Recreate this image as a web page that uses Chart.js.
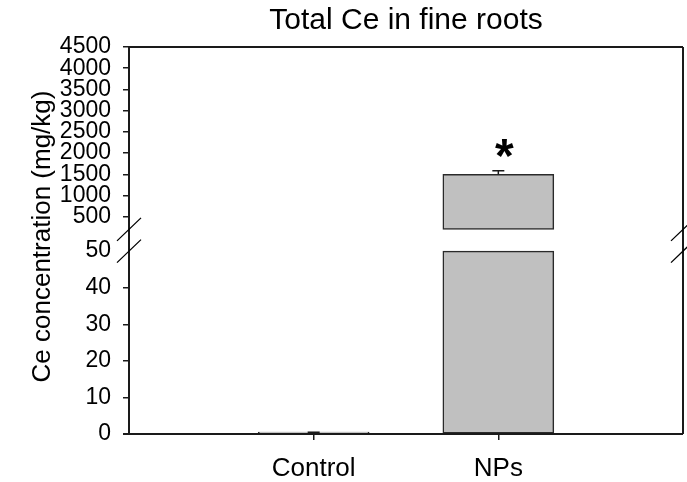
<!DOCTYPE html>
<html><head><meta charset="utf-8">
<script src="https://cdn.jsdelivr.net/npm/chart.js@4.4.0/dist/chart.umd.min.js"></script>
<style>
html,body{margin:0;padding:0;background:#fff;}
#wrap{position:relative;width:687px;height:482px;background:#fff;}
canvas{position:absolute;left:0;top:0;}
</style></head><body>
<div id="wrap"><canvas id="cTop" width="687" height="482"></canvas><canvas id="cBot" width="687" height="482"></canvas></div>
<script>
// ---- data ----
const categories = ['Control', 'NPs'];
const meanValues = [0.25, 1500];
const errorValues = [0.25, 80];
const significance = ['', '*'];
const upperTicks = [500, 1000, 1500, 2000, 2500, 3000, 3500, 4000, 4500];
const lowerTicks = [0, 10, 20, 30, 40, 50];
const upperRange = [200, 4500];
const lowerRange = [0, 50];
const titleText = 'Total Ce in fine roots';
const yTitleText = 'Ce concentration (mg/kg)';

// ---- style ----
const FONT = '"Liberation Sans", Arial, sans-serif';
const LINE = '#1a1a1a';
const BAR_FILL = '#c0c0c0';
const BAR_EDGE = '#2a2a2a';
const xMax = categories.length + 1;

function drawErrors(chart, test) {
  const {ctx, scales: {x, y}} = chart;
  categories.forEach((c, i) => {
    const top = meanValues[i], cap = meanValues[i] + errorValues[i];
    if (!test(top, cap)) return;
    const px = x.getPixelForValue(i + 1);
    const y0 = y.getPixelForValue(top), y1 = y.getPixelForValue(cap);
    ctx.save();
    ctx.strokeStyle = LINE; ctx.lineWidth = 1.5;
    ctx.beginPath();
    ctx.moveTo(px, y0); ctx.lineTo(px, y1);
    ctx.moveTo(px - 6, y1); ctx.lineTo(px + 6, y1);
    ctx.stroke();
    ctx.restore();
  });
}

const upperPlugin = {
  id: 'upperDeco',
  afterDatasetsDraw(chart) {
    drawErrors(chart, (top) => top > upperRange[0]);
    const {ctx, scales: {x, y}} = chart;
    categories.forEach((c, i) => {
      if (!significance[i]) return;
      const px = x.getPixelForValue(i + 1);
      const py = y.getPixelForValue(meanValues[i] + errorValues[i]);
      ctx.save();
      ctx.fillStyle = '#000';
      ctx.font = 'bold 48px ' + FONT;
      ctx.textAlign = 'center';
      ctx.textBaseline = 'alphabetic';
      ctx.fillText(significance[i], px + 6, py + 1);
      ctx.restore();
    });
  }
};

const xBase = {type: 'linear', min: 0, max: xMax, offset: false};

const chartA = new Chart(document.getElementById('cTop'), {
  type: 'bar',
  data: {
    datasets: [{
      data: categories.map((c, i) => ({
        x: i + 1,
        y: meanValues[i] > upperRange[0] ? [upperRange[0], Math.min(meanValues[i], upperRange[1])] : null
      })),
      backgroundColor: BAR_FILL,
      borderColor: BAR_EDGE,
      borderWidth: 1.5,
      borderSkipped: false,
      barThickness: 111,
      clip: false
    }]
  },
  options: {
    responsive: false, animation: false, devicePixelRatio: 1,
    layout: {padding: {left: 0, right: 4, top: 0, bottom: 252.6}},
    plugins: {
      legend: {display: false}, tooltip: {enabled: false},
      title: {
        display: true, text: titleText, fullSize: false, color: '#000',
        font: {family: FONT, size: 30, weight: 'normal', lineHeight: 1.2},
        padding: {top: 3, bottom: 8}
      }
    },
    scales: {
      x: Object.assign({}, xBase, {display: false, grid: {offset: false}}),
      y: {
        type: 'linear', min: upperRange[0], max: upperRange[1],
        afterBuildTicks: s => { s.ticks = upperTicks.map(v => ({value: v})); },
        afterFit: s => { s.width = 129; },
        grid: {drawOnChartArea: false, drawTicks: true, tickLength: 6, color: LINE, lineWidth: 1.5},
        border: {display: false},
        ticks: {autoSkip: false, padding: 12, color: '#000', font: {family: FONT, size: 23},
          callback: v => String(v)}
      }
    }
  },
  plugins: [upperPlugin]
});

const lowerPlugin = {
  id: 'lowerDeco',
  afterDatasetsDraw(chart) {
    drawErrors(chart, (top, cap) => cap <= lowerRange[1]);
  },
  afterDraw(chart) {
    const {ctx} = chart;
    const a = chartA.chartArea, b = chart.chartArea;
    const L = b.left, R = b.right;
    ctx.save();
    ctx.strokeStyle = LINE; ctx.lineWidth = 2;
    ctx.beginPath();
    ctx.moveTo(L, a.top); ctx.lineTo(R, a.top);
    ctx.moveTo(L, a.top); ctx.lineTo(L, b.bottom);
    ctx.moveTo(R, a.top); ctx.lineTo(R, b.bottom);
    ctx.moveTo(L - 6, b.bottom); ctx.lineTo(R, b.bottom);
    ctx.stroke();
    // axis break marks
    ctx.lineWidth = 1.3; ctx.strokeStyle = '#000';
    ctx.beginPath();
    [L, R].forEach(x0 => {
      [a.bottom, b.top].forEach(y0 => {
        ctx.moveTo(x0 - 12, y0 + 11.5); ctx.lineTo(x0 + 12, y0 - 11.5);
      });
    });
    ctx.stroke();
    // y axis title
    ctx.translate(50, (a.top + b.bottom) / 2 - 4);
    ctx.rotate(-Math.PI / 2);
    ctx.fillStyle = '#000';
    ctx.font = '26px ' + FONT;
    ctx.textAlign = 'center';
    ctx.textBaseline = 'alphabetic';
    ctx.fillText(yTitleText, 0, 0);
    ctx.restore();
  }
};

const chartB = new Chart(document.getElementById('cBot'), {
  type: 'bar',
  data: {
    datasets: [{
      data: categories.map((c, i) => ({
        x: i + 1,
        y: [lowerRange[0], Math.min(meanValues[i], lowerRange[1])]
      })),
      backgroundColor: BAR_FILL,
      borderColor: BAR_EDGE,
      borderWidth: 1.5,
      borderSkipped: false,
      barThickness: 111,
      minBarLength: 2,
      clip: false
    }]
  },
  options: {
    responsive: false, animation: false, devicePixelRatio: 1,
    layout: {padding: {left: 0, right: 4, top: 251.1, bottom: 0}},
    plugins: {legend: {display: false}, tooltip: {enabled: false}},
    scales: {
      x: Object.assign({}, xBase, {
        afterBuildTicks: s => { s.ticks = categories.map((c, i) => ({value: i + 1})); },
        afterFit: s => { s.height = 48; },
        grid: {offset: false, drawOnChartArea: false, drawTicks: true, tickLength: 6, color: LINE, lineWidth: 1.5},
        border: {display: false},
        ticks: {autoSkip: false, maxRotation: 0, padding: 13, color: '#000',
          font: {family: FONT, size: 26},
          callback: v => categories[v - 1] !== undefined ? categories[v - 1] : ''}
      }),
      y: {
        type: 'linear', min: lowerRange[0], max: lowerRange[1],
        afterBuildTicks: s => { s.ticks = lowerTicks.map(v => ({value: v})); },
        afterFit: s => { s.width = 129; },
        grid: {drawOnChartArea: false, drawTicks: true, tickLength: 6, lineWidth: 1.5,
          color: LINE,
          tickColor: ctx => (ctx.tick && ctx.tick.value === lowerRange[1]) ? 'rgba(0,0,0,0)' : LINE},
        border: {display: false},
        ticks: {autoSkip: false, padding: 12, color: '#000', font: {family: FONT, size: 23},
          callback: v => String(v)}
      }
    }
  },
  plugins: [lowerPlugin]
});
</script>
</body></html>
